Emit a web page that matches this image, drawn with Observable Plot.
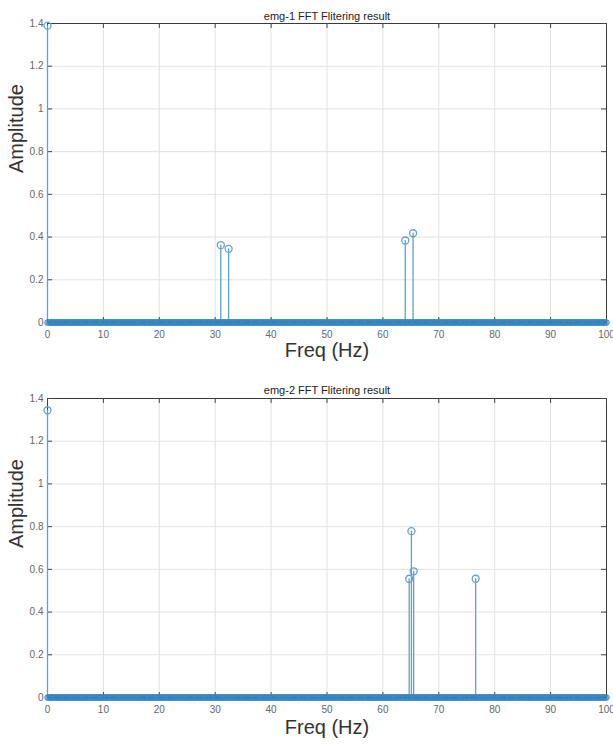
<!DOCTYPE html>
<html><head><meta charset="utf-8">
<script src="https://cdn.jsdelivr.net/npm/d3@7"></script>
<script src="https://cdn.jsdelivr.net/npm/@observablehq/plot@0.6"></script>
<style>
body{margin:0;background:#fff;}
#chart{width:613px;}
#chart svg{display:block;}
</style>
</head><body><div id="chart"></div>
<script>
const xTicks = [0, 10, 20, 30, 40, 50, 60, 70, 80, 90, 100];
const yTicks = [0, 0.2, 0.4, 0.6, 0.8, 1, 1.2, 1.4];
const yTickLabels = ["0", "0.2", "0.4", "0.6", "0.8", "1", "1.2", "1.4"];

const emg1Title = "emg-1 FFT Flitering result";
const emg1Freq = [0, 31.0, 32.4, 64.0, 65.4];
const emg1Amp = [1.39, 0.362, 0.345, 0.384, 0.418];

const emg2Title = "emg-2 FFT Flitering result";
const emg2Freq = [0, 64.7, 65.1, 65.5, 76.6];
const emg2Amp = [1.345, 0.556, 0.779, 0.591, 0.556];

// all other FFT bins are zero (dense row of markers on the baseline)
const binStep = 0.2;
const zeroBins = d3.range(0, 100 + 1e-9, binStep);

const stemColor = "#62a2ca";
const zeroColor = "#3586c4";

function panel(title, freq, amp, height, marginTop, marginBottom, titleDy, labelDy) {
  const data = freq.map((f, i) => ({f, a: amp[i]}));
  const width = 613, marginLeft = 47, marginRight = 7;
  const fh = height - marginTop - marginBottom;
  const fw = width - marginLeft - marginRight;
  return Plot.plot({
    width, height, marginLeft, marginRight, marginTop, marginBottom,
    x: {domain: [0, 100]},
    y: {domain: [0, 1.4]},
    style: {fontFamily: "'Liberation Sans', Arial, Helvetica, sans-serif", background: "#fff", overflow: "visible"},
    marks: [
      Plot.gridX(xTicks, {stroke: "#e2e2e2", strokeOpacity: 1}),
      Plot.gridY(yTicks, {stroke: "#e2e2e2", strokeOpacity: 1}),
      Plot.frame({stroke: "#3a3a3a"}),
      Plot.tickX(xTicks, {x: d => d, insetTop: fh - 5, stroke: "#444"}),
      Plot.tickX(xTicks, {x: d => d, insetBottom: fh - 5, stroke: "#444"}),
      Plot.tickY(yTicks, {y: d => d, insetRight: fw - 5, stroke: "#444"}),
      Plot.tickY(yTicks, {y: d => d, insetLeft: fw - 5, stroke: "#444"}),
      Plot.axisX(xTicks, {tickSize: 0, tickPadding: 8, fontSize: 10, fill: "#666", label: null}),
      Plot.axisY(yTicks, {tickSize: 0, tickPadding: 4, fontSize: 10, fill: "#666", label: null,
        tickFormat: d => yTickLabels[yTicks.indexOf(d)]}),
      Plot.ruleX(data, {x: "f", y1: 0, y2: "a", stroke: stemColor, strokeWidth: 1.3}),
      Plot.dot(zeroBins, {x: d => d, y: 0, r: 2.8, stroke: zeroColor, strokeWidth: 1}),
      Plot.dot(data, {x: "f", y: "a", r: 3.5, stroke: stemColor, strokeWidth: 1.3}),
      Plot.text([title], {frameAnchor: "top", dy: titleDy, fontSize: 11, fill: "#222"}),
      Plot.text(["Freq (Hz)"], {frameAnchor: "bottom", dy: labelDy, fontSize: 20, fill: "#333"}),
      Plot.text(["Amplitude"], {frameAnchor: "left", dx: -31, rotate: -90, fontSize: 20, fill: "#333"})
    ]
  });
}

const chart = document.getElementById("chart");
chart.append(panel(emg1Title, emg1Freq, emg1Amp, 372, 23, 50, -11, 34));
chart.append(panel(emg2Title, emg2Freq, emg2Amp, 373, 26, 48, -12, 36));
</script>
</body></html>
